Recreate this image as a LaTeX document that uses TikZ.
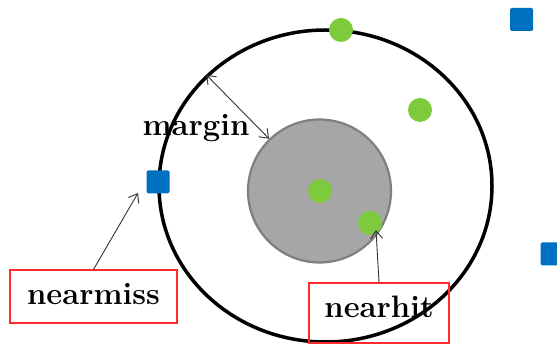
\documentclass[tikz,border=0pt]{standalone}
\usetikzlibrary{shapes.geometric,arrows.meta}
\definecolor{dotgreen}{HTML}{7DCB3D}
\definecolor{sqblue}{HTML}{0070C0}
\definecolor{coregray}{HTML}{A6A6A6}
\definecolor{coreedge}{HTML}{7F7F7F}
\definecolor{boxred}{HTML}{FF2A2A}
\tikzset{
  bigring/.style={ellipse, draw=black, line width=3.5pt, minimum width=333pt, minimum height=312pt, inner sep=0pt},
  core/.style={circle, fill=coregray, draw=coreedge, line width=2.2pt, minimum size=143pt, inner sep=0pt},
  gdot/.style={circle, fill=dotgreen, minimum size=24pt, inner sep=0pt},
  bsq/.style={rectangle, rounded corners=1.5pt, fill=sqblue, minimum size=23pt, inner sep=0pt},
  lbl/.style={font=\fontsize{31}{31}\selectfont\bfseries, text=black},
  redbox/.style={draw=boxred, line width=1.1pt, inner sep=0pt, font=\fontsize{31}{31}\selectfont\bfseries},
  ptr/.style={draw=black!80, line width=0.9pt, -{Straight Barb[length=8pt,width=12pt]}},
  dptr/.style={draw=black!80, line width=0.9pt, {Straight Barb[length=8pt,width=12pt]}-{Straight Barb[length=8pt,width=12pt]}}
}
\begin{document}
\begin{tikzpicture}[x=1pt,y=-1pt]
\useasboundingbox (0,0) rectangle (557,344);
\node[bigring] (ring) at (325.5,186) {};
\node[core] (core) at (319.5,191) {};
\node[gdot] (g1) at (320,191) {};
\node[gdot] (g2) at (370,223) {};
\node[gdot] (g3) at (341,30) {};
\node[gdot] (g4) at (420,110) {};
\node[bsq] (s1) at (158,182) {};
\node[bsq] (s2) at (521.5,19.5) {};
\node[bsq] (s3) at (552,254) {};
\node[lbl, anchor=base] (mlabel) at (196,136) {margin};
\node[redbox, minimum width=167pt, minimum height=53pt, text height=17pt, text depth=0pt] (nm) at (93.5,296.5) {nearmiss};
\node[redbox, minimum width=140pt, minimum height=60pt, text height=10pt, text depth=0pt] (nh) at (379,313) {nearhit};
\coordinate (nmtip) at (138,193);
\coordinate (nhtip) at (376,230);
\draw[dptr] (ring.137.7) -- (core.134.7);
\draw[ptr] (nm.north) -- (nmtip);
\draw[ptr] (nh.north) -- (nhtip);
\end{tikzpicture}
\end{document}
